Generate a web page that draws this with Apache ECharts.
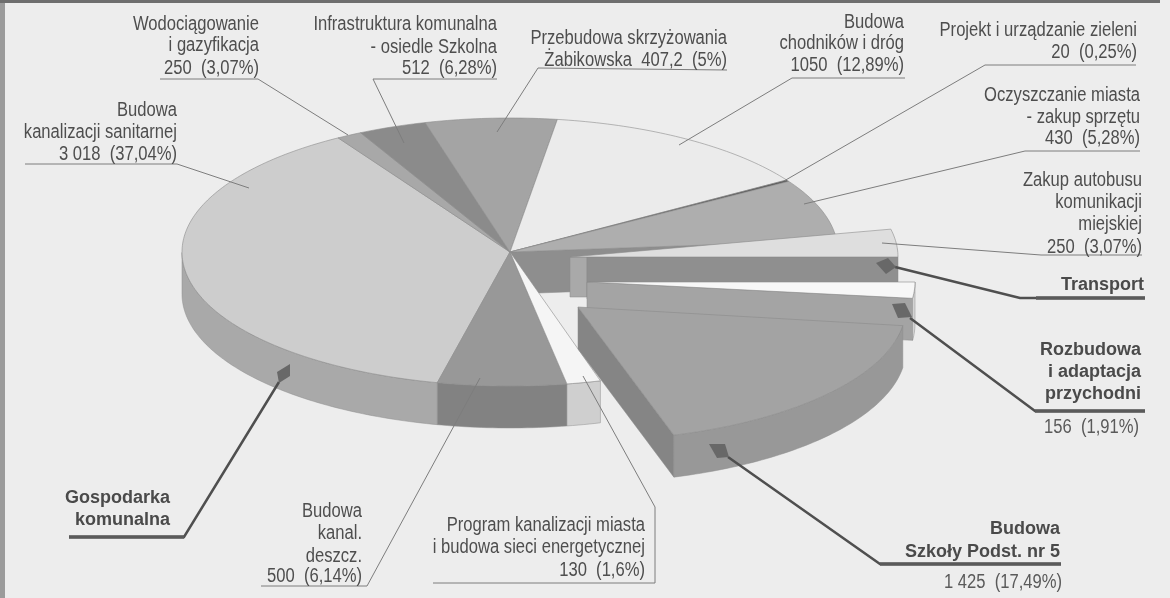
<!DOCTYPE html>
<html><head><meta charset="utf-8">
<style>html,body{margin:0;padding:0;background:#ededed}#c{width:1170px;height:598px}</style>
<script src="https://cdn.jsdelivr.net/npm/echarts@6/dist/echarts.min.js"></script>
</head><body><div id="c"></div>
<script>
// Chart content (values as printed on the chart's labels)
const amounts = ['3 018','250','512','407,2','1050','20','430','500','130','250','156','1 425'];
const percents = ['37,04','3,07','6,28','5','12,89','0,25','5,28','6,14','1,6','3,07','1,91','17,49'];
const titles = [
  ['Budowa','kanalizacji sanitarnej'],
  ['Wodociągowanie','i gazyfikacja'],
  ['Infrastruktura komunalna','- osiedle Szkolna'],
  ['Przebudowa skrzyżowania'],
  ['Budowa','chodników i dróg'],
  ['Projekt i urządzanie zieleni'],
  ['Oczyszczanie miasta','- zakup sprzętu'],
  ['Budowa','kanal.','deszcz.'],
  ['Program kanalizacji miasta','i budowa sieci energetycznej'],
  ['Zakup autobusu','komunikacji','miejskiej'],
  [],
  []
];
// Slice boundaries (degrees clockwise from 3 o'clock, on the un-squashed disc)
const sliceStart = [102.8,238.4,242.9,255,278.3,327.5,328.2,80,74,348,0,8];
const sliceEnd   = [238.4,242.9,255,278.3,327.5,328.2,355,102.8,80,360,7,73];

// Appearance and layout
const topColors  = ['#cdcdcd','#a8a8a8','#8b8b8b','#a4a4a4','#ebebeb','#5a5a5a','#aeaeae','#989898','#f5f5f5','#dedede','#f7f7f7','#a3a3a3'];
const wallColors = ['#a9a9a9','#a9a9a9','#888','#a4a4a4','#ddd','#666','#999','#828282','#cfcfcf','#a0a0a0','#d5d5d5','#989898'];
const cutColors  = [null,null,null,null,null,null,'#8e8e8e',null,null,'#8f8f8f','#a4a4a4','#858585'];
const offsets = [[0,0],[0,0],[0,0],[0,0],[0,0],[0,0],[0,0],[0,0],[0,0],[60,5],[77,30],[68,55]];
const stubs = [0,0,0,0,0,0,0,0,0,17,0,0];
const DEPTH = 42;
const FONT = '"Liberation Sans",sans-serif';

const lineLabels = [
 {i:0,r:177,y:[110,132,154]},{i:1,r:259,y:[24,45,68]},{i:2,r:497,y:[24,47,68]},
 {i:3,r:727,y:[38,60],pre:'Żabikowska  '},{i:4,r:904,y:[22,43,65]},{i:5,r:1137,y:[30,52]},
 {i:6,r:1140,y:[95,117,138]},{i:7,r:362,y:[511,533,556,576]},{i:8,r:645,y:[525,547,570]},
 {i:9,r:1142,y:[180,202,224,247]}
];
const extraText = [
 {t:'156  (1,91%)',r:1139,y:427},
 {t:'1 425  (17,49%)',r:1062,y:582}
];
const boldText = [
 {t:'Transport',r:1144,y:285},
 {t:'Rozbudowa',r:1141,y:350},{t:'i adaptacja',r:1141,y:372},{t:'przychodni',r:1141,y:394},
 {t:'Budowa',r:1060,y:529},{t:'Szkoły Podst. nr 5',r:1060,y:552},
 {t:'Gospodarka',r:170,y:498},{t:'komunalna',r:170,y:520}
];
const thinLeaders = [
 [[25,164],[177,164],[249,188]],
 [[160,79],[258,79],[348,135]],
 [[497,79],[373,79],[404,143]],
 [[727,70],[538,68],[497,132]],
 [[905,78],[792,78],[679,145]],
 [[1136,65],[985,65],[784,181]],
 [[1140,151],[1025,151],[804,204]],
 [[1142,255],[1041,255],[882,243]],
 [[261,586],[367,586],[480,378]],
 [[433,583],[655,583],[655,507],[583,376]]
];
const thickLeaders = [
 {p:[[1145,298],[1020,298],[895,267]],u:[[1036,298],[1145,298]]},
 {p:[[1145,411],[1035,411],[910,318]],u:[[1035,411],[1145,411]]},
 {p:[[1061,564],[880,564],[728,457]],u:[[880,564],[1061,564]]},
 {p:[[69,537],[184,537],[279,382]],u:[[69,537],[184,537]]}
];
const markers = [
 [[876,263],[888,258],[896,267],[886,274]],
 [[892,304],[905,303],[912,317],[898,318]],
 [[709,444],[725,444],[729,457],[717,458]],
 [[277,372],[290,364],[290,376],[279,383]]
];

function renderSlice(params, api){
  const i = api.value(0), a0 = api.value(1), a1 = api.value(2);
  const off = offsets[i];
  const pt = (deg,r,dy)=>{
    const rad = deg*Math.PI/180;
    const c = api.coord([r*Math.cos(rad), r*Math.sin(rad)]);
    return [c[0]+off[0], c[1]+off[1]+(dy||0)];
  };
  const kids = [];
  const apex = pt(0,0);
  const arc = [];
  for(let a=a0;a<a1;a+=1) arc.push(a);
  arc.push(a1);
  // small stepped block at the tip of the slice
  const stub = stubs[i];
  if(stub){
    kids.push({type:'polygon',shape:{points:[apex,[apex[0]+stub,apex[1]],[apex[0]+stub,apex[1]+DEPTH-2],[apex[0],apex[1]+DEPTH-2]]},
      style:{fill:'#a9a9a9',stroke:'#8a8a8a',lineWidth:0.5}});
  }
  // faces cut along the end radius
  if(cutColors[i]){
    const e = pt(a1,1);
    const s = [apex[0]+stub,apex[1]];
    kids.push({type:'polygon',shape:{points:[s,e,[e[0],e[1]+DEPTH],[s[0],s[1]+DEPTH]]},
      style:{fill:cutColors[i],stroke:'#8a8a8a',lineWidth:0.5}});
  }
  // outer wall, only for the front half
  const vis = arc.filter(a=>{const m=((a%360)+360)%360;return m>=0&&m<=180;});
  if(vis.length>1){
    const up = vis.map(a=>pt(a,1));
    const dn = vis.slice().reverse().map(a=>pt(a,1,DEPTH));
    kids.push({type:'polygon',shape:{points:up.concat(dn)},style:{fill:wallColors[i],stroke:'#8e8e8e',lineWidth:0.5}});
  }
  // top face
  kids.push({type:'polygon',shape:{points:[apex].concat(arc.map(a=>pt(a,1)))},
    style:{fill:topColors[i],stroke:'#8c8c8c',lineWidth:0.6}});
  return {type:'group',children:kids};
}

const sliceData = sliceStart.map((s,i)=>[i,s,sliceEnd[i]]);
const graphics = [
 {type:'rect',shape:{x:0,y:0,width:5,height:598},style:{fill:'#9b9b9b'},z:90},
 {type:'rect',shape:{x:0,y:0,width:1160,height:3},style:{fill:'#6e6e6e'},z:90}
];
const textEl = (t,r,y,font,fill,sx)=>({type:'text',x:r,y:y,scaleX:sx,z:110,silent:true,
  style:{text:t,textAlign:'right',textVerticalAlign:'middle',font:font,fill:fill}});
lineLabels.forEach(l=>{
  const last = (l.pre||'')+amounts[l.i]+'  ('+percents[l.i]+'%)';
  titles[l.i].concat([last]).forEach((t,k)=>graphics.push(textEl(t,l.r,l.y[k],'20px '+FONT,'#4e4e4e',0.83)));
});
extraText.forEach(o=>graphics.push(textEl(o.t,o.r,o.y,'20px '+FONT,'#5a5a5a',0.83)));
boldText.forEach(o=>graphics.push(textEl(o.t,o.r,o.y,'bold 18px '+FONT,'#4a4a4a',1)));
thinLeaders.forEach(p=>graphics.push({type:'polyline',z:105,silent:true,shape:{points:p},style:{fill:null,stroke:'#7d7d7d',lineWidth:1}}));
thickLeaders.forEach(o=>{
  graphics.push({type:'polyline',z:105,silent:true,shape:{points:o.p},style:{fill:null,stroke:'#4f4f4f',lineWidth:2.5}});
  graphics.push({type:'polyline',z:105,silent:true,shape:{points:o.u},style:{fill:null,stroke:'#5a5a5a',lineWidth:3.5}});
});
markers.forEach(p=>graphics.push({type:'polygon',z:106,silent:true,shape:{points:p},style:{fill:'#686868'}}));

const chart = echarts.init(document.getElementById('c'),null,{renderer:'canvas'});
chart.setOption({
  animation:false,
  backgroundColor:'#ededed',
  // the disc is squashed into an ellipse by the two value axes
  grid:{left:182,top:118,width:656,height:268},
  xAxis:{type:'value',min:-1,max:1,show:false},
  yAxis:{type:'value',min:-1,max:1,inverse:true,show:false},
  series:[{type:'custom',coordinateSystem:'cartesian2d',clip:false,silent:true,
    renderItem:renderSlice,data:sliceData,encode:{x:1,y:2}}],
  graphic:{elements:graphics}
});
</script></body></html>
